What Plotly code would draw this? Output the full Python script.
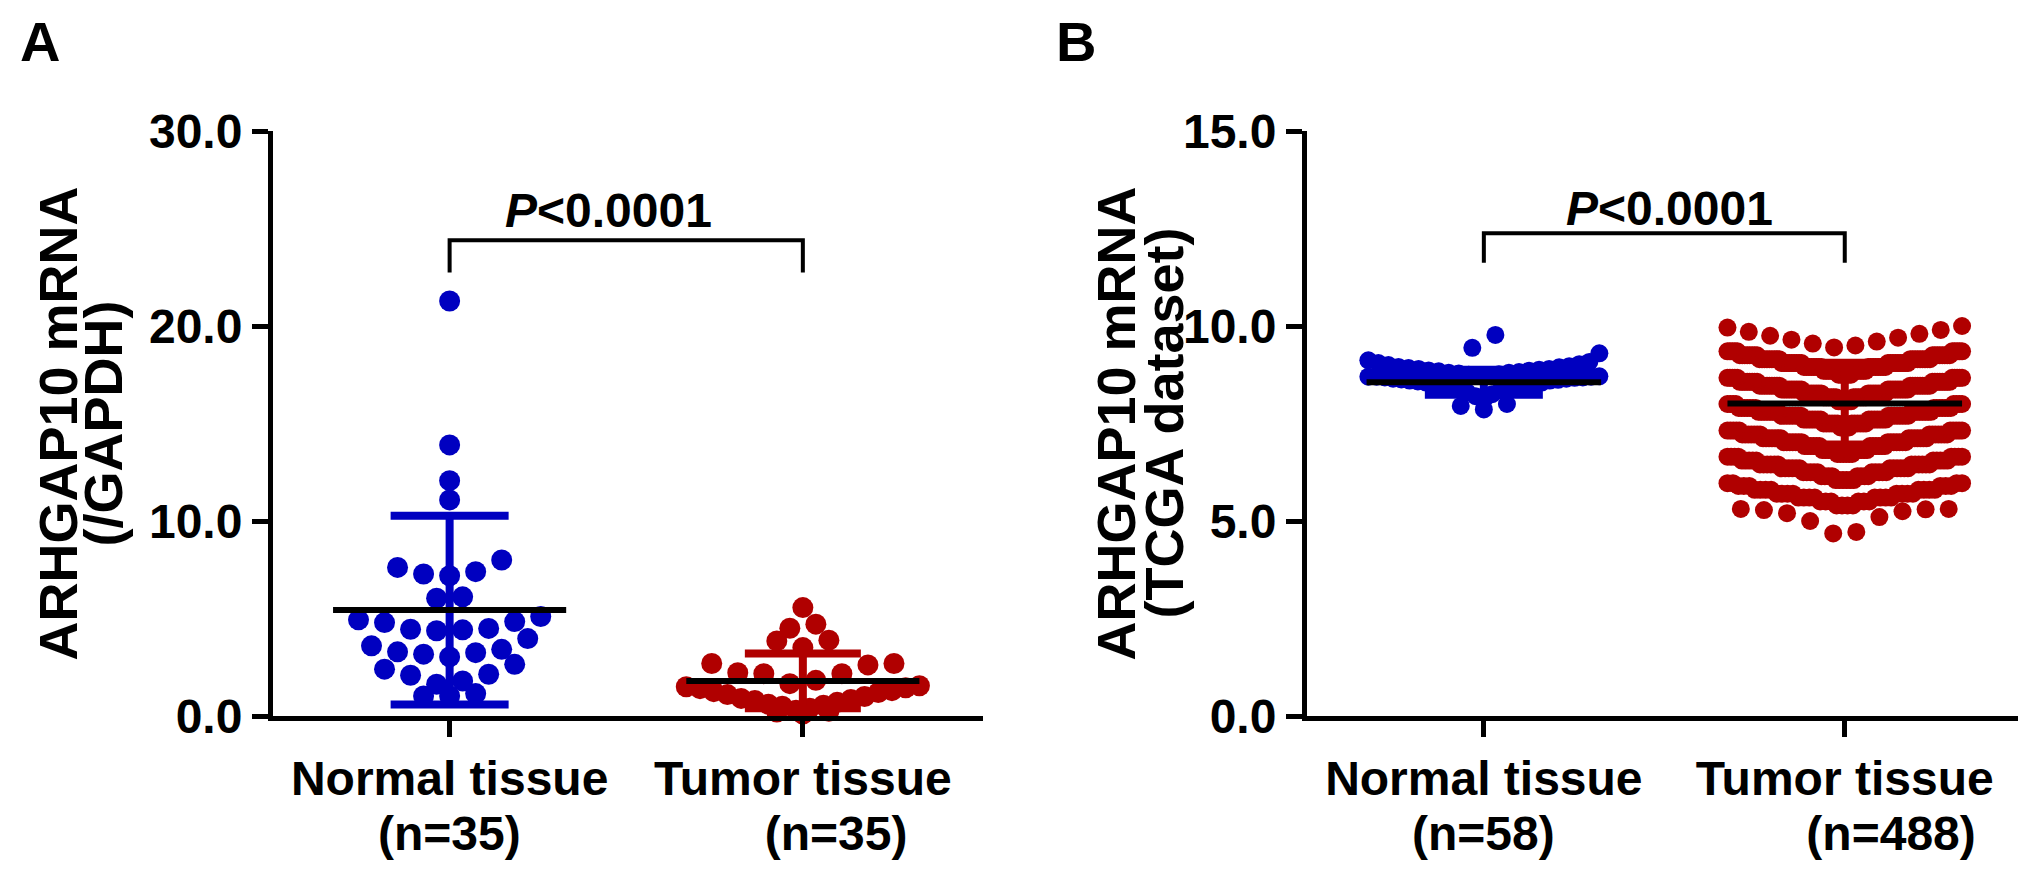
import numpy as np
import plotly.graph_objects as go

FONT = "Liberation Sans, Arial, sans-serif"
BLUE = "#0000C0"
RED = "#B00000"
NBSP = "\u00a0"

# ---- data ----
# panel A: qRT-PCR, ARHGAP10 / GAPDH
a_normal = [21.28, 13.90, 12.07, 11.08, 8.00, 7.62, 7.40, 7.28, 7.19, 6.11, 6.04,
            5.10, 4.93, 4.84, 4.79, 4.49, 4.45, 4.42, 4.37, 3.97, 3.60, 3.42, 3.29,
            3.25, 3.17, 3.03, 2.65, 2.40, 2.14, 2.09, 1.80, 1.63, 1.15, 1.03, 1.03]
a_tumor = [5.56, 4.71, 4.50, 3.89, 3.85, 3.51, 2.69, 2.69, 2.62, 2.22, 2.17, 2.17,
           1.83, 1.66, 1.55, 1.50, 1.45, 1.40, 1.30, 1.25, 1.20, 1.10, 1.00, 0.90,
           0.85, 0.80, 0.70, 0.60, 0.55, 0.50, 0.40, 0.30, 0.25, 0.20, 0.10]
a_mean = [5.43, 1.80]
a_sd = [4.84, 1.40]
a_groups = ["Normal tissue", "Tumor tissue"]
a_n = ["(n=35)", NBSP * 5 + "(n=35)"]

# panel B: TCGA dataset
b_normal = [9.77, 9.44, 9.30, 9.12, 9.08, 9.05, 9.02, 9.00, 8.97, 8.95, 8.94, 8.92,
            8.90, 8.90, 8.88, 8.86, 8.85, 8.84, 8.82, 8.80, 8.80, 8.78, 8.76, 8.75,
            8.74, 8.73, 8.71, 8.70, 8.70, 8.70, 8.68, 8.68, 8.67, 8.65, 8.65, 8.63,
            8.62, 8.60, 8.60, 8.58, 8.55, 8.55, 8.52, 8.50, 8.50, 8.48, 8.45, 8.45,
            8.42, 8.40, 8.35, 8.30, 8.25, 8.20, 8.10, 8.00, 7.95, 7.86]
# tumour group is too dense to read point by point: value level and count
b_tumor_levels = [10.00, 9.96, 9.90, 9.85, 9.80, 9.75, 9.70, 9.65, 9.60, 9.55, 9.50, 9.45,
                  9.35, 9.25, 9.15, 9.05, 8.95, 8.85, 8.75,
                  8.67, 8.57, 8.47, 8.37, 8.27, 8.17, 8.07,
                  8.00, 7.90, 7.80, 7.70, 7.60, 7.50, 7.40,
                  7.32, 7.22, 7.12, 7.02, 6.92, 6.82, 6.72,
                  6.65, 6.55, 6.45, 6.35, 6.25, 6.15, 6.05,
                  5.97, 5.90, 5.80, 5.70, 5.60, 5.50, 5.40,
                  5.31, 5.30, 5.28, 5.25, 5.20, 5.10, 5.00, 4.72, 4.68]
b_tumor_counts = [1] * 12 + \
                 [10, 16, 18, 18, 16, 12, 6] + \
                 [10, 16, 18, 18, 16, 12, 6] + \
                 [8, 14, 16, 16, 14, 12, 4] + \
                 [10, 14, 14, 14, 12, 10, 6] + \
                 [8, 10, 12, 12, 10, 8, 6] + \
                 [4, 6, 8, 8, 8, 6, 4] + \
                 [2, 1, 1, 1, 1, 1, 1, 1, 1]
b_mean = [8.56, 8.01]
b_sd = [0.32, 1.05]
b_groups = ["Normal tissue", "Tumor tissue"]
b_n = ["(n=58)", NBSP * 7 + "(n=488)"]

b_tumor = np.repeat(b_tumor_levels, b_tumor_counts)
assert len(b_tumor) == 488 and len(b_normal) == 58


def swarm(values, center, bin_h, origin, step, half_w):
    """GraphPad-like scatter: bin by value, spread each bin centre-outwards."""
    v = np.sort(np.asarray(values, dtype=float))
    idx = np.floor((v - origin) / bin_h).astype(int)
    xs = np.empty_like(v)
    for b in np.unique(idx):
        sel = np.where(idx == b)[0]
        n = len(sel)
        s = min(step, 2 * half_w / max(n - 1, 1))
        slots = [0.0] if n % 2 else []
        k = 1.0 if n % 2 else 0.5
        while len(slots) < n:
            slots.append(-k)
            if len(slots) < n:
                slots.append(k)
            k += 1
        xs[sel] = center + np.array(slots) * s
    return xs, v


fig = go.Figure()


def add_group(values, i, color, size, bin_h, origin, step, half_w, mean, sd,
              mean_half, cap, xa, ya):
    xs, ys = swarm(values, i, bin_h, origin, step, half_w)
    fig.add_trace(go.Scatter(
        x=xs, y=ys, mode="markers", xaxis=xa, yaxis=ya, cliponaxis=False,
        marker=dict(size=size, color=color, line=dict(width=0)),
        hoverinfo="y",
    ))
    # SD whiskers in group colour
    fig.add_trace(go.Scatter(
        x=[i], y=[mean], mode="markers", xaxis=xa, yaxis=ya, cliponaxis=False,
        marker=dict(size=1, color="rgba(0,0,0,0)"),
        error_y=dict(type="data", array=[sd], color=color, thickness=8, width=cap),
        hoverinfo="skip",
    ))
    # mean line in black
    fig.add_trace(go.Scatter(
        x=[i], y=[mean], mode="markers", xaxis=xa, yaxis=ya, cliponaxis=False,
        marker=dict(size=1, color="rgba(0,0,0,0)"),
        error_x=dict(type="data", array=[mean_half], color="black", thickness=6, width=0),
        hoverinfo="skip",
    ))


add_group(a_normal, 0, BLUE, 21, 1.3, 0.3, 0.0737, 0.33, a_mean[0], a_sd[0], 0.33, 59, "x", "y")
add_group(a_tumor, 1, RED, 21, 1.3, 0.3, 0.0737, 0.33, a_mean[1], a_sd[1], 0.33, 58, "x", "y")
add_group(b_normal, 0, BLUE, 18, 0.68, 4.64, 0.064, 0.32, b_mean[0], b_sd[0], 0.325, 59, "x2", "y2")
add_group(b_tumor, 1, RED, 18, 0.68, 4.64, 0.064, 0.325, b_mean[1], b_sd[1], 0.325, 59, "x2", "y2")

# the page body keeps its default 8px margin, so the figure is 16px smaller
# than the window and screen positions are shifted by OFF
OFF = 8
W, H = 2031 - 2 * OFF, 870 - 2 * OFF


def px(x):
    return (x - OFF) / W


def py(y):
    return 1 - (y - OFF) / H


bold48 = dict(family=FONT, size=48, color="black", weight="bold")
axis_common = dict(
    showline=True, linewidth=5, linecolor="black", ticks="outside", ticklen=16,
    tickwidth=5, tickcolor="black", showgrid=False, zeroline=False,
    tickfont=bold48, fixedrange=True, automargin=False,
)
y_dom = [py(716), py(131)]

fig.update_layout(
    width=W, height=H, margin=dict(l=0, r=0, t=0, b=0, autoexpand=False),
    paper_bgcolor="white", plot_bgcolor="white", showlegend=False,
    xaxis=dict(domain=[px(273), px(983)], range=[-0.5, 1.51], tickvals=[0, 1],
               ticktext=a_groups, anchor="y", **axis_common),
    yaxis=dict(domain=y_dom, range=[0, 30], tickvals=[0, 10, 20, 30],
               tickformat=".1f", anchor="x", **axis_common),
    xaxis2=dict(domain=[px(1307), px(2018)], range=[-0.49, 1.48], tickvals=[0, 1],
                ticktext=b_groups, anchor="y2", **axis_common),
    yaxis2=dict(domain=y_dom, range=[0, 15], tickvals=[0, 5, 10, 15],
                tickformat=".1f", anchor="x2", **axis_common),
)

# second line of the category labels (group sizes)
for xr, labels in (("x", a_n), ("x2", b_n)):
    for i, txt in enumerate(labels):
        fig.add_annotation(x=i, y=py(833), xref=xr, yref="paper", text=txt,
                           showarrow=False, xanchor="center", yanchor="middle",
                           font=bold48)

# significance brackets: (foot, top, text centre x, text y)
BRACKET_A = (22.75, 24.4, 0.45, 25.9)
BRACKET_B = (11.62, 12.38, 0.515, 13.02)
for xr, yr, (lo, hi, tx, ty) in (("x", "y", BRACKET_A), ("x2", "y2", BRACKET_B)):
    fig.add_shape(type="path", xref=xr, yref=yr,
                  path=f"M 0,{lo} L 0,{hi} L 1,{hi} L 1,{lo}",
                  line=dict(color="black", width=4))
    fig.add_annotation(x=tx, y=ty, xref=xr, yref=yr, showarrow=False,
                       text="<i>P</i>&lt;0.0001", xanchor="center", yanchor="middle",
                       font=bold48)

# y titles, one annotation per line to keep the lines tight
title_font = dict(family=FONT, size=54, color="black", weight="bold")
for xc, txt in ((57, "ARHGAP10 mRNA"), (102, "(/GAPDH)"),
                (1115, "ARHGAP10 mRNA"), (1163, "(TCGA dataset)")):
    fig.add_annotation(x=px(xc), y=sum(y_dom) / 2, xref="paper", yref="paper",
                       text=txt, textangle=-90, showarrow=False,
                       xanchor="center", yanchor="middle", font=title_font)

# panel letters
for xc, letter in ((40, "A"), (1076, "B")):
    fig.add_annotation(x=px(xc), y=1, xref="paper", yref="paper", text=letter,
                       showarrow=False, xanchor="center", yanchor="top",
                       font=dict(family=FONT, size=56, color="black", weight="bold"))

fig.write_html("out.html")
